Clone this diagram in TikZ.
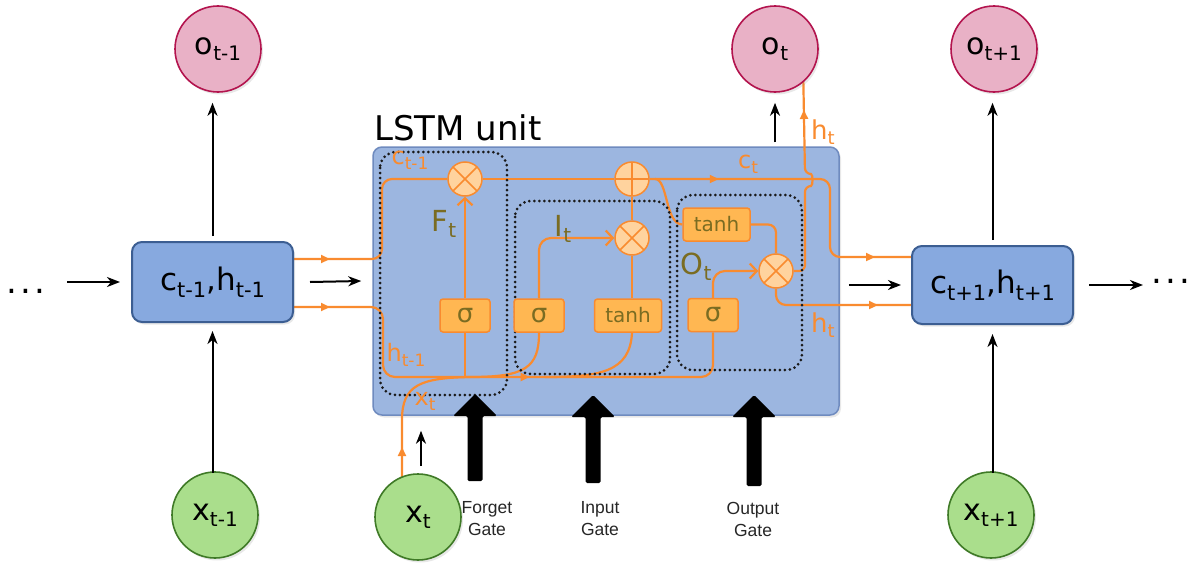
\documentclass[tikz,border=0pt]{standalone}
\usepackage{fontspec}
\setmainfont{DejaVu Sans}
\newfontfamily\gatefont{Liberation Sans}
\usetikzlibrary{arrows.meta,decorations.markings,calc,shadows}
\definecolor{orng}{HTML}{F98B2F}
\definecolor{sigfill}{HTML}{FFB752}
\definecolor{opfill}{HTML}{FFD39E}
\definecolor{olive}{HTML}{7A6C22}
\definecolor{unitfill}{HTML}{9CB6E0}
\definecolor{unitdraw}{HTML}{6F8BBF}
\definecolor{sidefill}{HTML}{87A9DF}
\definecolor{sidedraw}{HTML}{3C5E92}
\definecolor{ofill}{HTML}{E9B1C6}
\definecolor{odraw}{HTML}{B3144E}
\definecolor{xfill}{HTML}{AADE8C}
\definecolor{xdraw}{HTML}{3F7A27}
\definecolor{dotc}{HTML}{1A1A1A}
\newcommand\tsub[3]{\raisebox{-#3}{\fontsize{#2}{#2}\selectfont #1}}
\pgfdeclarelayer{back}
\pgfdeclarelayer{bg}
\pgfsetlayers{back,bg,main}
\begin{document}
\begin{tikzpicture}[x=1pt,y=-1pt,
  shad/.style={drop shadow={shadow xshift=2pt, shadow yshift=-2.5pt, opacity=0.18}},
  sidebox/.style={shad, draw=sidedraw, fill=sidefill, line width=2pt, rounded corners=10pt,
    minimum width=161pt, minimum height=80pt, inner sep=0pt, font=\fontsize{31}{31}\selectfont},
  unitbox/.style={shad, draw=unitdraw, fill=unitfill, line width=1.5pt, rounded corners=9pt,
    minimum width=466pt, minimum height=268pt, inner sep=0pt},
  obub/.style={shad, circle, draw=odraw, fill=ofill, line width=1.6pt, minimum size=86pt, inner sep=0pt,
    font=\fontsize{30}{30}\selectfont},
  xbub/.style={shad, circle, draw=xdraw, fill=xfill, line width=1.6pt, minimum size=86pt, inner sep=0pt,
    font=\fontsize{30}{30}\selectfont},
  blk/.style={line width=2pt, -{Stealth[length=13pt,width=10pt,inset=4pt]}},
  gatebox/.style={draw=orng, fill=sigfill, line width=1.5pt, rounded corners=3pt,
    minimum height=33pt, inner sep=0pt, text=olive},
  sigbox/.style={gatebox, minimum width=50pt, font=\fontsize{26}{26}\selectfont},
  tanhbox/.style={gatebox, minimum width=67pt, font=\fontsize{20}{20}\selectfont},
  opnode/.style={circle, draw=orng, fill=opfill, line width=1.5pt, minimum size=34pt, inner sep=0pt},
  mulop/.style={opnode, path picture={\draw[orng,line width=1.5pt]
      (path picture bounding box.north west) -- (path picture bounding box.south east)
      (path picture bounding box.north east) -- (path picture bounding box.south west);}},
  addop/.style={opnode, path picture={\draw[orng,line width=1.5pt]
      (path picture bounding box.north) -- (path picture bounding box.south)
      (path picture bounding box.west) -- (path picture bounding box.east);}},
  ol/.style={draw=orng, line width=2.2pt},
  barb/.style={-{Straight Barb[length=7pt,width=15pt]}},
  mk/.style={postaction={decorate, decoration={markings,
      mark=at position #1 with {\arrow{Triangle[length=9pt,width=8pt]}}}}},
  dotbox/.style={draw=dotc, line width=3pt, dash pattern=on 0pt off 5pt, line cap=round, rounded corners=16pt},
  olab/.style={text=orng, inner sep=0pt, font=\fontsize{24}{24}\selectfont},
  glab/.style={text=olive, inner sep=0pt, font=\fontsize{29}{29}\selectfont},
  gatetxt/.style={align=center, inner sep=0pt, text=black!85, font=\gatefont\fontsize{17.5}{22}\selectfont}
]
\useasboundingbox (0,0) rectangle (1198,562);

% ---------- main unit box ----------
\begin{pgfonlayer}{back}
\node[unitbox] (lstm) at (606,281) {};
\end{pgfonlayer}
\node[anchor=base west, inner sep=0pt, font=\fontsize{34}{34}\selectfont] (title) at (374,140) {LSTM unit};

% ---------- outer nodes ----------
\node[sidebox] (bl) at (212.5,282) {c\tsub{t-1}{21}{7pt},h\tsub{t-1}{21}{7pt}};
\node[sidebox, minimum height=78pt] (br) at (992.5,285) {c\tsub{t+1}{21}{7pt},h\tsub{t+1}{21}{7pt}};
\node[obub] (ol) at (218,49) {o\tsub{t-1}{20}{6pt}};
\node[obub] (om) at (775,49) {o\tsub{t}{20}{6pt}};
\node[obub] (or) at (994,49) {o\tsub{t+1}{20}{6pt}};
\node[xbub] (xl) at (215,515) {x\tsub{t-1}{20}{6pt}};
\node[xbub] (xm) at (418,517) {x\tsub{t}{20}{6pt}};
\node[xbub] (xr) at (991,515) {x\tsub{t+1}{20}{6pt}};
\node[inner sep=0pt, font=\fontsize{34}{34}\selectfont] (dl) at (26,291) {.\hspace{3pt}.\hspace{3pt}.};
\node[inner sep=0pt, font=\fontsize{34}{34}\selectfont] (dr) at (1171,281) {.\hspace{3pt}.\hspace{3pt}.};

% ---------- inner nodes ----------
\node[mulop] (fx) at (465,179) {};
\node[addop] (ad) at (632,179) {};
\node[mulop] (ix) at (632,238) {};
\node[mulop] (ox) at (776,271) {};
\node[sigbox] (fs) at (465,315.5) {σ};
\node[sigbox] (is) at (539,315.5) {σ};
\node[tanhbox] (it) at (628,315.5) {tanh};
\node[sigbox] (os) at (713,315) {σ};
\node[tanhbox] (ot) at (716.5,224.5) {tanh};

% ---------- labels ----------
\node[olab] (lc1) at (410,160) {c\tsub{t-1}{17}{5pt}};
\node[olab] (lh1) at (406,355) {h\tsub{t-1}{17}{5pt}};
\node[olab] (lxt) at (425,401) {x\tsub{t}{17}{5pt}};
\node[olab] (lct) at (748,164) {c\tsub{t}{17}{5pt}};
\node[olab, font=\fontsize{26}{26}\selectfont] (lht1) at (823,132) {h\tsub{t}{18}{5pt}};
\node[olab, font=\fontsize{26}{26}\selectfont] (lht2) at (823,325) {h\tsub{t}{18}{5pt}};
\node[glab] (lf) at (444,224) {F\tsub{t}{20}{6pt}};
\node[glab] (li) at (563,229) {I\tsub{t}{20}{6pt}};
\node[glab] (lo) at (696,267) {O\tsub{t}{20}{6pt}};

\node[gatetxt] (fg) at (487,519) {Forget\\Gate};
\node[gatetxt] (ig) at (600,519) {Input\\Gate};
\node[gatetxt] (og) at (753,519) {Output\\Gate};

% ---------- big gate arrows ----------
\foreach \cx/\ty/\by in {475/394/481, 593/395/483, 754/395/486}{
  \fill[black, rounded corners=1.5pt] (\cx-7.5,\by) -- (\cx-7.5,\ty+22) -- (\cx-22,\ty+22)
     -- (\cx,\ty) -- (\cx+22,\ty+22) -- (\cx+7.5,\ty+22) -- (\cx+7.5,\by) -- cycle;
}

% ---------- black connectors ----------
\draw[blk] ([xshift=-64pt]bl.west) -- ([xshift=-11pt]bl.west);
\draw[blk] ([xshift=16pt]bl.east) -- ([xshift=-11pt]lstm.west);
\draw[blk] ([xshift=9pt]lstm.east |- br.west) -- ([xshift=-10pt]br.west);
\draw[blk] ([xshift=15pt]br.east) -- ([xshift=69pt]br.east);
\draw[blk] ([yshift=5pt]bl.north) -- ([yshift=-10pt]bl.north |- ol.south);
\draw[blk] ([yshift=-2pt]xl.north -| bl.south) -- ([yshift=-8pt]bl.south);
\draw[blk] ([yshift=5pt]br.north) -- ([yshift=-10pt]br.north |- or.south);
\draw[blk] ([yshift=-2pt]xr.north -| br.south) -- ([yshift=-9pt]br.south);
\draw[blk] ([yshift=4pt]lstm.north -| om.south) -- ([yshift=-10pt]om.south);
\draw[blk] ([xshift=3pt,yshift=7pt]xm.north) -- ([xshift=3pt,yshift=-15pt]xm.north |- lstm.south);

% ---------- orange internals ----------
\coordinate (cin) at (265,259);
\coordinate (hin) at (267,307);
\coordinate (cout) at (927,257);
\coordinate (hout) at (927,305);
\coordinate (hup) at (803,62);
\coordinate (xdot) at (402,494);
\coordinate (bus) at (0,377);

\begin{pgfonlayer}{bg}
% cell state
\draw[ol, rounded corners=10pt, mk=65pt] (cin) -- (382,259) -- (382,179) -- (fx.west);
\draw[ol] (fx.east) -- (ad.west);
\draw[ol, rounded corners=10pt, mk=69pt, mk=-52pt] (ad.east) -- (830,179) -- (830,257) -- (cout);
\draw[ol] (655,179) .. controls (668,179) and (665,224) .. (ot.west);
% hidden state input and bus
\draw[ol, rounded corners=12pt, mk=63pt, mk=-223pt] (hin) -- (383,307) -- (383,377) -- (713,377) -- (os.south);
\draw[ol] (fs.south) -- (fs.south |- bus);
\draw[ol] (is.south) .. controls (539,368) and (525,377) .. (470,377);
\draw[ol] (ix.south |- it.south) .. controls (630,372) and (600,377) .. (545,377);
\draw[ol, mk=47pt] (xdot) -- (402,420) .. controls (402,385) and (420,378) .. (470,377);
% gates
\draw[ol, barb] (fs.north) -- (fx.south);
\draw[ol, rounded corners=12pt, barb] (is.north) |- (ix.west);
\draw[ol] (ix.south |- it.north) -- (ix.south);
\draw[ol] (ix.north) -- (ad.south);
\draw[ol, rounded corners=8pt] (ot.east) -| (ox.north);
\draw[ol, rounded corners=12pt, barb] (os.north) |- (ox.west);
% outputs
\draw[ol, rounded corners=6pt, mk=-48pt] (ox.east) -- (805,271) -- (805,186)
   .. controls (813,186) and (813,174) .. (805,174) -- (hup);
\draw[ol, rounded corners=10pt, mk=-49pt] (ox.south) |- (hout);
% end dots
\foreach \p in {cin,hin,cout,hout,hup,xdot} \fill[orng] (\p) circle[radius=5pt];
% dotted gate frames
\draw[dotbox] (380,152) rectangle (507,395);
\draw[dotbox] (515,201) rectangle (670,374);
\draw[dotbox] (677,195) rectangle (802,370);
\end{pgfonlayer}
\end{tikzpicture}
\end{document}
